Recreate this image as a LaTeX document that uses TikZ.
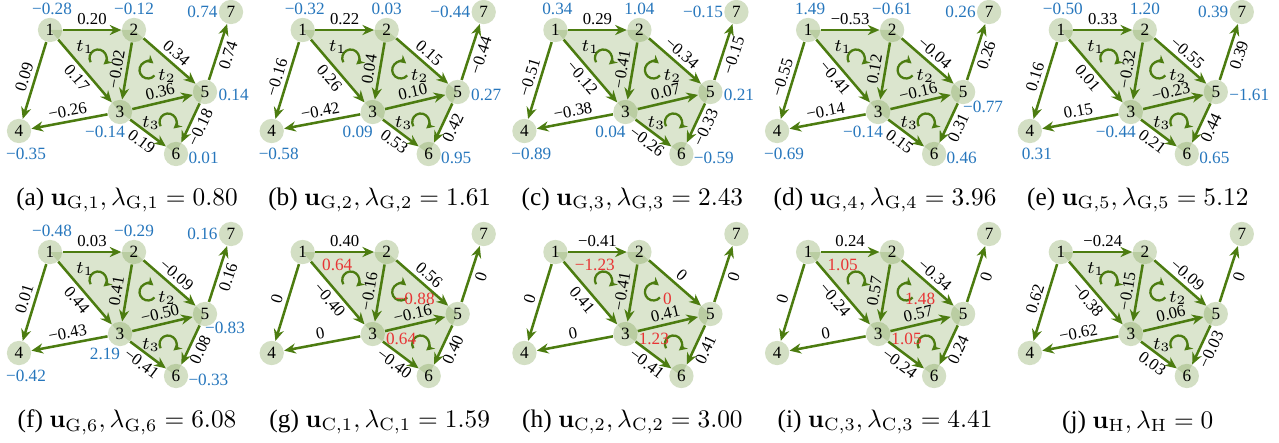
\documentclass[tikz,border=0pt]{standalone}
\usepackage[no-math]{fontspec}
\setmainfont{Liberation Serif}
\usetikzlibrary{arrows.meta}

\definecolor{edgegreen}{RGB}{76,124,16}
\definecolor{facegreen}{RGB}{110,150,60}
\definecolor{valblue}{RGB}{38,118,188}
\definecolor{valred}{RGB}{232,52,52}

% faces t1=(1,2,3), t2=(2,5,3), t3=(3,5,6), the seven vertices and the orientations
\newcommand{\drawskeleton}[1]{%
  \fill[face] (0,0) -- (84,0) -- (155,-62) -- (126,-124) -- (70,-82) -- cycle;
  \foreach \i/\x/\y in {1/0/0, 2/84/0, 3/70/-82, 4/-31/-101, 5/155/-62, 6/126/-124, 7/181/18}
    \node[vertex] (#1\i) at (\x,\y) {\i};
  \draw[spin] (48,-28) ++(210:8.5) arc[start angle=210, end angle=-50, radius=8.5];
  \draw[spin] (98,-40) ++(-40:8.5) arc[start angle=-40, end angle=-310, radius=8.5];
  \draw[spin] (118,-92) ++(210:8.5) arc[start angle=210, end angle=-50, radius=8.5];
}
\newcommand{\tnames}[1]{%
  \node[tlabel] (#1t1) at (35,-17) {$t_1$};
  \node[tlabel] (#1t2) at (117,-46) {$t_2$};
  \node[tlabel] (#1t3) at (101,-93) {$t_3$};
}
\newcommand{\tvalues}[4]{%
  \node[tval, anchor=west] (#1t1) at (19,-13) {#2};
  \node[tval] (#1t2) at (112,-47) {#3};
  \node[tval, anchor=east] (#1t3) at (114,-87) {#4};
}
\newcommand{\drawedges}[2]{%
  \foreach \a/\b/\v in {#2}
    \draw[link] (#1\a) -- node[elabel, e\a\b] {\v} (#1\b);
}
\newcommand{\drawvalues}[2]{%
  \foreach \i/\v in {#2}
    \node[val, v\i] (#1v\i) at (#1\i) {\v};
}

\begin{document}
\begin{tikzpicture}[
    x=0.395pt, y=0.395pt,
    vertex/.style={circle, fill=facegreen, fill opacity=0.3, text opacity=1,
        minimum size=9.6pt, inner sep=0pt, font=\fontsize{6.8}{7}\selectfont},
    face/.style={fill=facegreen, fill opacity=0.25},
    link/.style={-{Stealth[length=4.6pt, width=4pt]}, edgegreen, line width=1pt},
    spin/.style={-{Stealth[length=3.2pt, width=3.4pt]}, edgegreen, line width=0.9pt},
    elabel/.style={sloped, text=black, inner sep=1.5pt, font=\fontsize{6.6}{7}\selectfont},
    val/.style={text=valblue, inner sep=0pt, font=\fontsize{6.8}{7}\selectfont},
    tlabel/.style={inner sep=0pt, font=\fontsize{7}{8}\selectfont},
    tval/.style={text=valred, inner sep=0pt, font=\fontsize{6.8}{7}\selectfont},
    caption/.style={font=\fontsize{10}{12}\selectfont},
    e12/.style={above}, e13/.style={below}, e14/.style={above},
    e23/.style={above}, e25/.style={above}, e34/.style={above},
    e35/.style={above}, e36/.style={below}, e56/.style={below},
    e57/.style={below},
    v1/.style={shift={(2,21)}}, v2/.style={shift={(0,21)}},
    v3/.style={shift={(-15,-20)}}, v4/.style={shift={(7,-23)}},
    v5/.style={anchor=west, shift={(13,-3)}},
    v6/.style={anchor=west, shift={(12,-4)}},
    v7/.style={anchor=east, shift={(-13,0)}},
]
    \useasboundingbox (0,0) rectangle (1279,442);

    % =============================================================
    % Top row: eigenvectors of the graph Laplacian
    % =============================================================

    % (a)
    \begin{scope}[shift={(50,412)}]
        \drawskeleton{a}
        \tnames{a}
        \drawedges{a}{1/2/0.20, 1/3/0.17, 1/4/0.09, 2/3/−0.02, 2/5/0.34,
            3/4/−0.26, 3/5/0.36, 3/6/0.19, 5/6/−0.18, 5/7/0.74}
        \drawvalues{a}{1/−0.28, 2/−0.12, 3/−0.14, 4/−0.35, 5/0.14, 6/0.01, 7/0.74}
        \node[caption] (capa) at (77,-170)
            {(a) $\mathbf{u}_{\mathrm{G},1}, \lambda_{\mathrm{G},1} = 0.80$};
    \end{scope}

    % (b)
    \begin{scope}[shift={(302.7,412)}]
        \drawskeleton{b}
        \tnames{b}
        \drawedges{b}{1/2/0.22, 1/3/0.26, 1/4/−0.16, 2/3/0.04, 2/5/0.15,
            3/4/−0.42, 3/5/0.10, 3/6/0.53, 5/6/0.42, 5/7/−0.44}
        \drawvalues{b}{1/−0.32, 2/0.03, 3/0.09, 4/−0.58, 5/0.27, 6/0.95, 7/−0.44}
        \node[caption] (capb) at (77,-170)
            {(b) $\mathbf{u}_{\mathrm{G},2}, \lambda_{\mathrm{G},2} = 1.61$};
    \end{scope}

    % (c)
    \begin{scope}[shift={(555.4,412)}]
        \drawskeleton{c}
        \tnames{c}
        \drawedges{c}{1/2/0.29, 1/3/−0.12, 1/4/−0.51, 2/3/−0.41, 2/5/−0.34,
            3/4/−0.38, 3/5/0.07, 3/6/−0.26, 5/6/−0.33, 5/7/−0.15}
        \drawvalues{c}{1/0.34, 2/1.04, 3/0.04, 4/−0.89, 5/0.21, 6/−0.59, 7/−0.15}
        \node[caption] (capc) at (77,-170)
            {(c) $\mathbf{u}_{\mathrm{G},3}, \lambda_{\mathrm{G},3} = 2.43$};
    \end{scope}

    % (d)
    \begin{scope}[shift={(808.1,412)}, v5/.style={shift={(20,-15)}}]
        \drawskeleton{d}
        \tnames{d}
        \drawedges{d}{1/2/−0.53, 1/3/−0.41, 1/4/−0.55, 2/3/0.12, 2/5/−0.04,
            3/4/−0.14, 3/5/−0.16, 3/6/0.15, 5/6/0.31, 5/7/0.26}
        \drawvalues{d}{1/1.49, 2/−0.61, 3/−0.14, 4/−0.69, 5/−0.77, 6/0.46, 7/0.26}
        \node[caption] (capd) at (77,-170)
            {(d) $\mathbf{u}_{\mathrm{G},4}, \lambda_{\mathrm{G},4} = 3.96$};
    \end{scope}

    % (e)
    \begin{scope}[shift={(1060.8,412)}]
        \drawskeleton{e}
        \tnames{e}
        \drawedges{e}{1/2/0.33, 1/3/0.01, 1/4/0.16, 2/3/−0.32, 2/5/−0.55,
            3/4/0.15, 3/5/−0.23, 3/6/0.21, 5/6/0.44, 5/7/0.39}
        \drawvalues{e}{1/−0.50, 2/1.20, 3/−0.44, 4/0.31, 5/−1.61, 6/0.65, 7/0.39}
        \node[caption] (cape) at (77,-170)
            {(e) $\mathbf{u}_{\mathrm{G},5}, \lambda_{\mathrm{G},5} = 5.12$};
    \end{scope}

    % =============================================================
    % Bottom row: last graph eigenvector, then curl and harmonic ones
    % =============================================================

    % (f)
    \begin{scope}[shift={(50,190)}, v5/.style={shift={(20,-14)}}]
        \drawskeleton{f}
        \tnames{f}
        \drawedges{f}{1/2/0.03, 1/3/0.44, 1/4/0.01, 2/3/0.41, 2/5/−0.09,
            3/4/−0.43, 3/5/−0.50, 3/6/−0.41, 5/6/0.08, 5/7/0.16}
        \drawvalues{f}{1/−0.48, 2/−0.29, 3/2.19, 4/−0.42, 5/−0.83, 6/−0.33, 7/0.16}
        \node[caption] (capf) at (77,-170)
            {(f) $\mathbf{u}_{\mathrm{G},6}, \lambda_{\mathrm{G},6} = 6.08$};
    \end{scope}

    % (g)
    \begin{scope}[shift={(302.7,190)}]
        \drawskeleton{g}
        \tvalues{g}{0.64}{−0.88}{0.64}
        \drawedges{g}{1/2/0.40, 1/3/−0.40, 1/4/0, 2/3/−0.16, 2/5/0.56,
            3/4/0, 3/5/−0.16, 3/6/−0.40, 5/6/0.40, 5/7/0}
        \node[caption] (capg) at (77,-170)
            {(g) $\mathbf{u}_{\mathrm{C},1}, \lambda_{\mathrm{C},1} = 1.59$};
    \end{scope}

    % (h)
    \begin{scope}[shift={(555.4,190)}]
        \drawskeleton{h}
        \tvalues{h}{−1.23}{0}{1.23}
        \drawedges{h}{1/2/−0.41, 1/3/0.41, 1/4/0, 2/3/−0.41, 2/5/0,
            3/4/0, 3/5/0.41, 3/6/−0.41, 5/6/0.41, 5/7/0}
        \node[caption] (caph) at (77,-170)
            {(h) $\mathbf{u}_{\mathrm{C},2}, \lambda_{\mathrm{C},2} = 3.00$};
    \end{scope}

    % (i)
    \begin{scope}[shift={(808.1,190)}]
        \drawskeleton{i}
        \tvalues{i}{1.05}{1.48}{1.05}
        \drawedges{i}{1/2/0.24, 1/3/−0.24, 1/4/0, 2/3/0.57, 2/5/−0.34,
            3/4/0, 3/5/0.57, 3/6/−0.24, 5/6/0.24, 5/7/0}
        \node[caption] (capi) at (77,-170)
            {(i) $\mathbf{u}_{\mathrm{C},3}, \lambda_{\mathrm{C},3} = 4.41$};
    \end{scope}

    % (j)
    \begin{scope}[shift={(1060.8,190)}]
        \drawskeleton{j}
        \tnames{j}
        \drawedges{j}{1/2/−0.24, 1/3/−0.38, 1/4/0.62, 2/3/−0.15, 2/5/−0.09,
            3/4/−0.62, 3/5/0.06, 3/6/0.03, 5/6/−0.03, 5/7/0}
        \node[caption] (capj) at (77,-170)
            {(j) $\mathbf{u}_{\mathrm{H}}, \lambda_{\mathrm{H}} = 0$};
    \end{scope}

\end{tikzpicture}
\end{document}
